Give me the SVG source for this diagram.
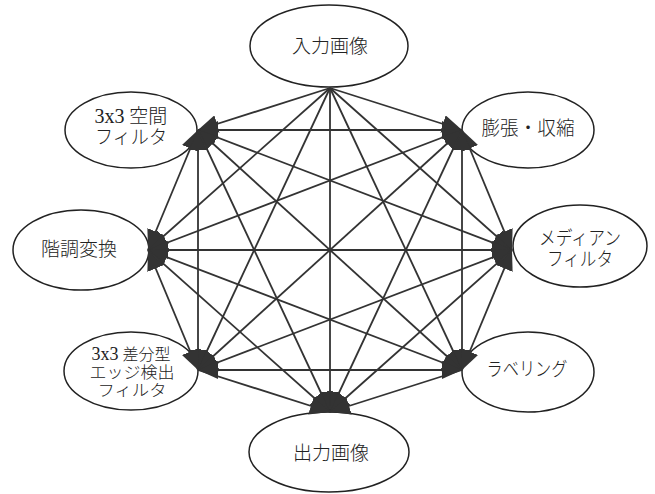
<svg xmlns="http://www.w3.org/2000/svg" width="655" height="494" viewBox="0 0 655 494">
<style>
.n ellipse{fill:#fff;stroke:#222;stroke-width:1.5}
.n text{font-family:"Liberation Serif","Noto Sans CJK JP",serif;font-size:19px;font-weight:300;fill:#222;text-anchor:middle}
.n .s{font-size:16px}
.n .d{font-size:20px}
.e line{stroke:#333;stroke-width:1.8}
.e .o{marker-end:url(#ah)}
.e .b{marker-start:url(#ah);marker-end:url(#ah)}
</style>
<defs>
<marker id="ah" viewBox="0 0 20 18" refX="20" refY="9" markerWidth="20" markerHeight="18" markerUnits="userSpaceOnUse" orient="auto-start-reverse">
<path d="M0,0 L20,9 L0,18 Z" fill="#333"/>
</marker>
</defs>
<rect width="655" height="494" fill="#fff"/>
<g id="nodes">
<g id="in" class="n"><ellipse cx="329" cy="46" rx="79" ry="41"/><text x="330" y="53">入力画像</text></g>
<g id="sp" class="n"><ellipse cx="131" cy="130" rx="66" ry="38"/><text x="131" y="123"><tspan class="d">3x3</tspan> 空間</text><text x="131" y="144" textLength="72" lengthAdjust="spacingAndGlyphs">フィルタ</text></g>
<g id="di" class="n"><ellipse cx="528" cy="130" rx="66" ry="38"/><text x="528" y="135" textLength="93" lengthAdjust="spacingAndGlyphs">膨張・収縮</text></g>
<g id="gr" class="n"><ellipse cx="81" cy="250" rx="68" ry="40"/><text x="79" y="256">階調変換</text></g>
<g id="me" class="n"><ellipse cx="580" cy="246" rx="67" ry="41"/><text x="580" y="245" textLength="82" lengthAdjust="spacingAndGlyphs">メディアン</text><text x="580" y="266" textLength="66" lengthAdjust="spacingAndGlyphs">フィルタ</text></g>
<g id="ed" class="n"><ellipse cx="131" cy="371" rx="67" ry="39"/><text x="131" y="360" class="s"><tspan class="d" style="font-size:18px">3x3</tspan> 差分型</text><text x="132" y="378" class="s" textLength="85" lengthAdjust="spacingAndGlyphs">エッジ検出</text><text x="132" y="396" class="s" textLength="69" lengthAdjust="spacingAndGlyphs">フィルタ</text></g>
<g id="la" class="n"><ellipse cx="528" cy="372" rx="66" ry="40"/><text x="527" y="376" textLength="81" lengthAdjust="spacingAndGlyphs">ラベリング</text></g>
<g id="out" class="n"><ellipse cx="329" cy="452" rx="80" ry="40"/><text x="331" y="460">出力画像</text></g>
</g>
<g id="connectors" class="e">
<line class="o" x1="330" y1="88" x2="198" y2="130"/>
<line class="o" x1="330" y1="88" x2="462" y2="130"/>
<line class="o" x1="330" y1="88" x2="148" y2="250"/>
<line class="o" x1="330" y1="88" x2="512" y2="250"/>
<line class="o" x1="330" y1="88" x2="198" y2="370"/>
<line class="o" x1="330" y1="88" x2="462" y2="370"/>
<line class="o" x1="330" y1="88" x2="330" y2="412"/>
<line class="b" x1="198" y1="130" x2="462" y2="130"/>
<line class="b" x1="198" y1="130" x2="148" y2="250"/>
<line class="b" x1="198" y1="130" x2="512" y2="250"/>
<line class="b" x1="198" y1="130" x2="198" y2="370"/>
<line class="b" x1="198" y1="130" x2="462" y2="370"/>
<line class="b" x1="462" y1="130" x2="148" y2="250"/>
<line class="b" x1="462" y1="130" x2="512" y2="250"/>
<line class="b" x1="462" y1="130" x2="198" y2="370"/>
<line class="b" x1="462" y1="130" x2="462" y2="370"/>
<line class="b" x1="148" y1="250" x2="512" y2="250"/>
<line class="b" x1="148" y1="250" x2="198" y2="370"/>
<line class="b" x1="148" y1="250" x2="462" y2="370"/>
<line class="b" x1="512" y1="250" x2="198" y2="370"/>
<line class="b" x1="512" y1="250" x2="462" y2="370"/>
<line class="b" x1="198" y1="370" x2="462" y2="370"/>
<line class="o" x1="198" y1="130" x2="330" y2="412"/>
<line class="o" x1="462" y1="130" x2="330" y2="412"/>
<line class="o" x1="148" y1="250" x2="330" y2="412"/>
<line class="o" x1="512" y1="250" x2="330" y2="412"/>
<line class="o" x1="198" y1="370" x2="330" y2="412"/>
<line class="o" x1="462" y1="370" x2="330" y2="412"/>
</g>
</svg>
